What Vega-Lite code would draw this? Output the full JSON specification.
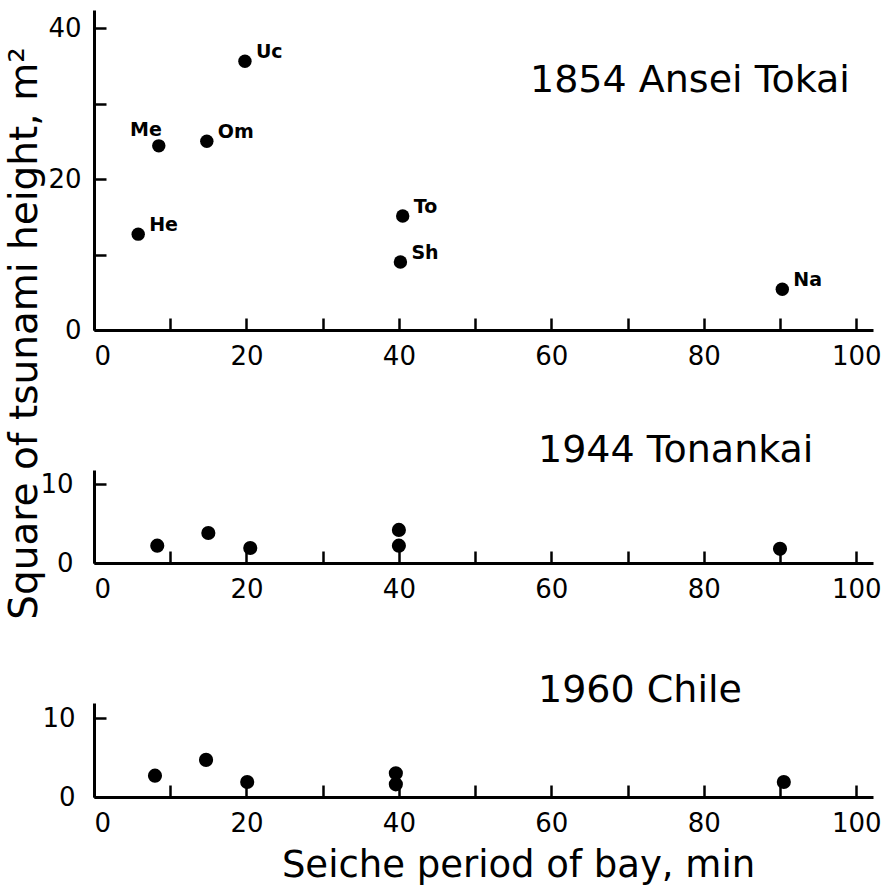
{
  "$schema": "https://vega.github.io/schema/vega-lite/v6.json",
  "background": "white",
  "padding": {"left": 5, "top": 10, "right": 5, "bottom": 5},
  "autosize": {"type": "pad"},
  "bounds": "flush",
  "spacing": 140,
  "datasets": {
    "pts": [
      {"quake": "1854", "label": "He", "period": 5.8, "h2": 12.7},
      {"quake": "1854", "label": "Me", "period": 8.5, "h2": 24.4},
      {"quake": "1854", "label": "Om", "period": 14.8, "h2": 25.0},
      {"quake": "1854", "label": "Uc", "period": 19.8, "h2": 35.6},
      {"quake": "1854", "label": "To", "period": 40.5, "h2": 15.1},
      {"quake": "1854", "label": "Sh", "period": 40.2, "h2": 9.0},
      {"quake": "1854", "label": "Na", "period": 90.3, "h2": 5.4},
      {"quake": "1944", "label": "Me", "period": 8.3, "h2": 2.2},
      {"quake": "1944", "label": "Om", "period": 15.0, "h2": 3.8},
      {"quake": "1944", "label": "Uc", "period": 20.5, "h2": 1.9},
      {"quake": "1944", "label": "To", "period": 40.0, "h2": 4.2},
      {"quake": "1944", "label": "Sh", "period": 40.0, "h2": 2.2},
      {"quake": "1944", "label": "Na", "period": 90.0, "h2": 1.8},
      {"quake": "1960", "label": "Me", "period": 8.0, "h2": 2.7},
      {"quake": "1960", "label": "Om", "period": 14.7, "h2": 4.7},
      {"quake": "1960", "label": "Uc", "period": 20.1, "h2": 1.9},
      {"quake": "1960", "label": "To", "period": 39.6, "h2": 3.0},
      {"quake": "1960", "label": "Sh", "period": 39.6, "h2": 1.6},
      {"quake": "1960", "label": "Na", "period": 90.5, "h2": 1.9}
    ]
  },
  "config": {
    "view": {"stroke": null},
    "font": "DejaVu Sans",
    "axis": {
      "grid": false,
      "domainColor": "black",
      "domainWidth": 3,
      "tickColor": "black",
      "tickWidth": 2.5,
      "tickSize": -12,
      "labelColor": "black",
      "labelFont": "DejaVu Sans",
      "labelFontSize": 26,
      "labelOverlap": false,
      "titleColor": "black",
      "titleFont": "DejaVu Sans",
      "titleFontSize": 37,
      "titleFontWeight": "normal"
    },
    "title": {
      "font": "DejaVu Sans",
      "fontSize": 38,
      "fontWeight": "normal",
      "color": "black",
      "anchor": "start",
      "frame": "group",
      "baseline": "middle"
    }
  },
  "vconcat": [
    {
      "width": 779,
      "height": 320,
      "title": {"text": "1854 Ansei Tokai", "dx": 436, "offset": -90},
      "data": {"name": "pts"},
      "transform": [{"filter": "datum.quake == '1854'"}],
      "encoding": {
        "x": {
          "field": "period", "type": "quantitative",
          "scale": {"domain": [0, 102.2], "nice": false, "zero": false},
          "axis": {
            "values": [0, 10, 20, 30, 40, 50, 60, 70, 80, 90, 100],
            "labelExpr": "datum.value % 20 == 0 ? datum.label : ''",
            "labelPadding": 25,
            "title": null
          }
        },
        "y": {
          "field": "h2", "type": "quantitative",
          "scale": {"domain": [0, 42.4], "nice": false, "zero": false},
          "axis": {
            "values": [0, 10, 20, 30, 40],
            "labelExpr": "datum.value % 20 == 0 ? datum.label : ''",
            "labelPadding": 25,
            "title": "Square of tsunami height, m²",
            "titleAngle": -90,
            "titleX": -58,
            "titleY": 323,
            "titleAlign": "center",
            "titleBaseline": "alphabetic",
            "titleFontSize": 39
          }
        }
      },
      "layer": [
        {"mark": {"type": "circle", "color": "black", "size": 180, "opacity": 1}},
        {
          "transform": [{"filter": "datum.label != 'Me'"}],
          "mark": {"type": "text", "align": "left", "baseline": "middle", "dx": 11, "dy": -9, "fontSize": 19, "fontWeight": "bold", "color": "black"},
          "encoding": {"text": {"field": "label"}}
        },
        {
          "transform": [{"filter": "datum.label == 'Me'"}],
          "mark": {"type": "text", "align": "right", "baseline": "middle", "dx": 3, "dy": -16, "fontSize": 19, "fontWeight": "bold", "color": "black"},
          "encoding": {"text": {"field": "label"}}
        }
      ]
    },
    {
      "width": 779,
      "height": 93,
      "title": {"text": "1944 Tonankai", "dx": 444, "offset": 0},
      "data": {"name": "pts"},
      "transform": [{"filter": "datum.quake == '1944'"}],
      "mark": {"type": "circle", "color": "black", "size": 200, "opacity": 1},
      "encoding": {
        "x": {
          "field": "period", "type": "quantitative",
          "scale": {"domain": [0, 102.2], "nice": false, "zero": false},
          "axis": {
            "values": [0, 10, 20, 30, 40, 50, 60, 70, 80, 90, 100],
            "labelExpr": "datum.value % 20 == 0 ? datum.label : ''",
            "labelPadding": 25,
            "title": null
          }
        },
        "y": {
          "field": "h2", "type": "quantitative",
          "scale": {"domain": [0, 11.8], "nice": false, "zero": false},
          "axis": {"values": [0, 10], "labelPadding": 33, "title": null}
        }
      }
    },
    {
      "width": 779,
      "height": 94,
      "title": {"text": "1960 Chile", "dx": 444, "offset": -7},
      "data": {"name": "pts"},
      "transform": [{"filter": "datum.quake == '1960'"}],
      "mark": {"type": "circle", "color": "black", "size": 200, "opacity": 1},
      "encoding": {
        "x": {
          "field": "period", "type": "quantitative",
          "scale": {"domain": [0, 102.2], "nice": false, "zero": false},
          "axis": {
            "values": [0, 10, 20, 30, 40, 50, 60, 70, 80, 90, 100],
            "labelExpr": "datum.value % 20 == 0 ? datum.label : ''",
            "labelPadding": 25,
            "title": "Seiche period of bay, min",
            "titleX": 424,
            "titleY": 79,
            "titleAlign": "center",
            "titleBaseline": "alphabetic"
          }
        },
        "y": {
          "field": "h2", "type": "quantitative",
          "scale": {"domain": [0, 11.9], "nice": false, "zero": false},
          "axis": {"values": [0, 10], "labelPadding": 31, "title": null}
        }
      }
    }
  ]
}
